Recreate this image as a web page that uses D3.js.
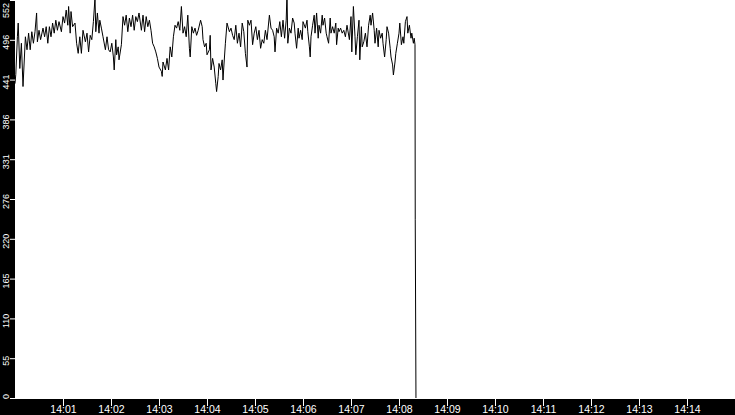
<!DOCTYPE html>
<html>
<head>
<meta charset="utf-8">
<script src="https://d3js.org/d3.v7.min.js"></script>
<style>
  html, body { margin: 0; padding: 0; background: #000; }
  #chart { width: 735px; height: 415px; }
  .axis text { fill: #fff; font-family: "Liberation Sans", Arial, sans-serif; }
  .axis line { stroke: #fff; }
  .axis .domain { display: none; }
</style>
</head>
<body>
<div id="chart"></div>
<script>
// seconds after 14:00:00 for each sample
var secs = [
  0,1,3,4,6,8,10,13,15,17,19,21,23,25,27,28,30,32,35,37,
  39,41,43,45,47,49,51,53,55,58,60,62,64,66,67,69,70,72,75,77,
  79,81,83,85,88,90,92,94,96,98,100,101,103,105,106,108,110,113,115,117,
  119,121,123,124,126,127,129,130,133,135,137,139,141,143,145,147,149,151,153,155,
  158,160,162,164,166,168,170,172,174,176,178,180,183,184,185,188,190,192,194,196,
  198,200,202,204,206,208,210,212,214,216,218,219,221,223,225,227,229,232,234,235,
  237,239,240,243,244,245,247,249,251,252,254,255,257,259,260,261,263,265,268,270,
  272,274,276,278,280,282,284,286,288,290,291,293,295,297,299,301,303,305,307,309,
  311,313,315,318,320,322,324,325,327,329,331,333,335,337,339,340,341,343,345,347,
  349,350,352,354,355,357,359,360,363,365,366,368,369,370,372,374,375,377,379,380,
  382,384,385,387,389,390,392,394,395,397,399,401,402,404,405,407,409,411,413,415,
  418,420,421,423,425,426,428,430,431,433,434,436,438,440,442,444,445,447,449,450,
  452,454,455,457,459,460,462,464,465,467,469,470,472,473,475,476,478,480,481,483,
  485,486,488,490,491,493,495,496,498,499,500,500.3,501.2
];
var values = [
  436,449,501,520,457,492,432,501,483,506,483,508,492,508,534,494,510,497,513,501,
  515,492,515,501,520,506,524,510,522,508,529,520,538,517,543,506,536,515,520,492,
  478,501,478,510,494,506,480,503,497,522,555,508,534,506,524,513,501,483,501,483,
  480,492,473,455,497,476,487,469,490,529,517,531,508,527,515,531,510,529,522,534,
  510,531,508,529,515,524,510,492,487,480,471,459,453,446,466,455,471,455,487,473,
  501,517,513,522,510,543,506,515,501,531,485,473,515,506,513,503,510,524,515,497,
  487,492,476,483,503,455,471,459,436,425,446,464,455,469,441,459,492,520,508,513,
  503,497,517,492,506,487,520,508,478,459,524,517,524,490,506,515,497,510,485,497,
  492,510,497,531,513,510,501,480,513,506,522,501,524,499,524,562,492,513,506,527,
  520,506,485,513,499,510,497,522,513,524,508,487,473,501,517,531,506,534,499,517,
  506,531,517,527,506,501,492,527,506,515,506,520,490,513,508,513,506,510,501,517,
  497,529,480,543,501,476,501,524,469,515,487,494,506,487,517,531,517,534,510,492,
  513,487,510,499,506,492,473,497,515,506,485,473,462,448,466,478,492,506,520,490,
  501,492,522,529,506,517,499,506,492,499,490,248,0
];
var yMax = 552;
var yTickLabels = ["0","55","110","165","220","276","331","386","441","496","552"];
var xTickMinutes = [1,2,3,4,5,6,7,8,9,10,11,12,13,14];

var W = 735, H = 415;
var margin = { left: 15, bottom: 16 };
var plotBottom = H - margin.bottom; // 399

var t0 = new Date(2020, 0, 1, 14, 0, 0);
function at(s) { return new Date(t0.getTime() + s * 1000); }

var data = secs.map(function(s, i) { return { t: at(s), v: values[i] }; });

var x = d3.scaleTime()
    .domain([t0, at(15 * 60)])
    .range([margin.left, W]);
var y = d3.scaleLinear()
    .domain([0, yMax])
    .range([plotBottom - 1, 0]);

var svg = d3.select("#chart").append("svg")
    .attr("width", W)
    .attr("height", H);

svg.append("rect")
    .attr("width", W).attr("height", H)
    .attr("fill", "#000");

svg.append("defs").append("clipPath").attr("id", "plotclip")
  .append("rect")
    .attr("x", margin.left).attr("y", 0)
    .attr("width", W - margin.left).attr("height", plotBottom);

svg.append("rect")
    .attr("x", margin.left).attr("y", 0)
    .attr("width", W - margin.left).attr("height", plotBottom)
    .attr("fill", "#fff");

// y axis
var yTicks = yTickLabels.map(function(d, i) { return i * yMax / 10; });
var yAxis = svg.append("g")
    .attr("class", "axis")
    .attr("transform", "translate(" + margin.left + ",0)")
    .call(d3.axisLeft(y)
        .tickValues(yTicks)
        .tickSize(5)
        .tickFormat(function(d, i) { return yTickLabels[i]; }));
yAxis.selectAll("text")
    .attr("x", null).attr("dy", null)
    .attr("text-anchor", "middle")
    .attr("font-size", 9)
    .attr("transform", function(d) {
        var py = y(d);
        var c = Math.max(10, Math.min(396, py + 2));
        return "translate(-6.5," + (c - py) + ") rotate(-90)";
    });

// x axis
svg.append("g")
    .attr("class", "axis")
    .attr("transform", "translate(0," + plotBottom + ")")
    .call(d3.axisBottom(x)
        .tickValues(xTickMinutes.map(function(m) { return at(m * 60); }))
        .tickSize(7)
        .tickPadding(0)
        .tickFormat(d3.timeFormat("%H:%M")))
  .selectAll("text")
    .attr("font-size", 10.5);

// series line
var line = d3.line()
    .x(function(d) { return x(d.t); })
    .y(function(d) { return y(d.v); });

svg.append("path")
    .datum(data)
    .attr("clip-path", "url(#plotclip)")
    .attr("fill", "none")
    .attr("stroke", "#000")
    .attr("stroke-width", 1)
    .attr("d", line);
</script>
</body>
</html>
